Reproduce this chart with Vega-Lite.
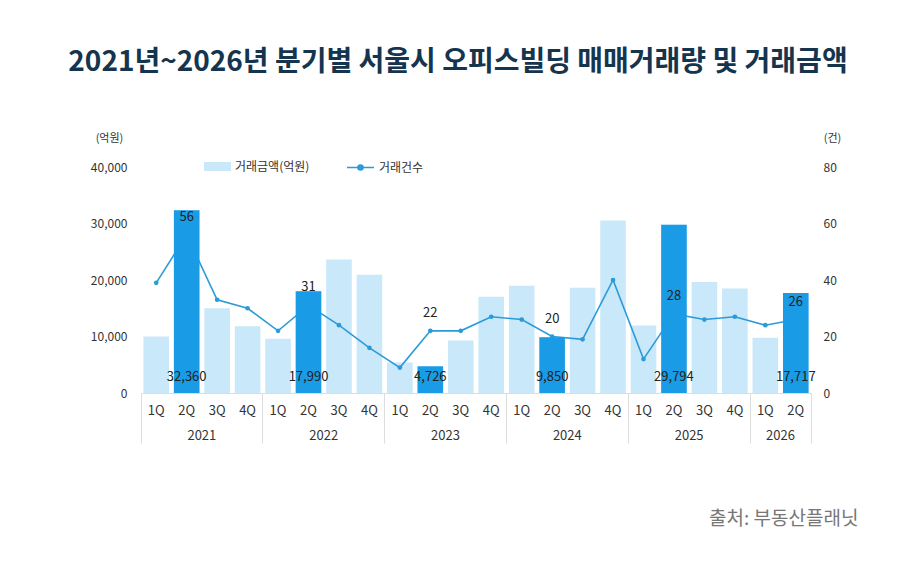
{
  "$schema": "https://vega.github.io/schema/vega-lite/v6.json",
  "width": 670,
  "height": 226,
  "autosize": "none",
  "padding": {"left": 141, "top": 167, "right": 106, "bottom": 179},
  "background": "white",
  "config": {
    "font": "Noto Sans CJK KR",
    "view": {"stroke": null},
    "axis": {"grid": false, "labelColor": "#333333", "titleColor": "#333333", "titleFontWeight": "normal"},
    "legend": {"labelColor": "#333333", "labelFontSize": 12, "padding": 0}
  },
  "title": {
    "text": "2021년~2026년 분기별 서울시 오피스빌딩 매매거래량 및 거래금액",
    "anchor": "middle",
    "frame": "group",
    "dx": -18,
    "offset": 55,
    "fontSize": 28,
    "fontWeight": "bold",
    "color": "#15354f"
  },
  "data": {
    "values": [
      {"key": "2021 1Q", "q": "1Q", "amount": 10000, "count": 39},
      {"key": "2021 2Q", "q": "2Q", "amount": 32360, "count": 56},
      {"key": "2021 3Q", "q": "3Q", "amount": 15000, "count": 33},
      {"key": "2021 4Q", "q": "4Q", "amount": 11800, "count": 30},
      {"key": "2022 1Q", "q": "1Q", "amount": 9600, "count": 22},
      {"key": "2022 2Q", "q": "2Q", "amount": 17990, "count": 31},
      {"key": "2022 3Q", "q": "3Q", "amount": 23650, "count": 24},
      {"key": "2022 4Q", "q": "4Q", "amount": 20950, "count": 16},
      {"key": "2023 1Q", "q": "1Q", "amount": 5400, "count": 9},
      {"key": "2023 2Q", "q": "2Q", "amount": 4726, "count": 22},
      {"key": "2023 3Q", "q": "3Q", "amount": 9300, "count": 22},
      {"key": "2023 4Q", "q": "4Q", "amount": 17050, "count": 27},
      {"key": "2024 1Q", "q": "1Q", "amount": 19000, "count": 26},
      {"key": "2024 2Q", "q": "2Q", "amount": 9850, "count": 20},
      {"key": "2024 3Q", "q": "3Q", "amount": 18650, "count": 19},
      {"key": "2024 4Q", "q": "4Q", "amount": 30550, "count": 40},
      {"key": "2025 1Q", "q": "1Q", "amount": 11950, "count": 12},
      {"key": "2025 2Q", "q": "2Q", "amount": 29794, "count": 28},
      {"key": "2025 3Q", "q": "3Q", "amount": 19650, "count": 26},
      {"key": "2025 4Q", "q": "4Q", "amount": 18480, "count": 27},
      {"key": "2026 1Q", "q": "1Q", "amount": 9770, "count": 24},
      {"key": "2026 2Q", "q": "2Q", "amount": 17717, "count": 26}
    ]
  },
  "encoding": {
    "x": {
      "field": "key",
      "type": "nominal",
      "sort": null,
      "scale": {
        "type": "band",
        "paddingInner": 0,
        "paddingOuter": 0,
        "domain": ["2021 1Q", "2021 2Q", "2021 3Q", "2021 4Q", "2022 1Q", "2022 2Q", "2022 3Q", "2022 4Q", "2023 1Q", "2023 2Q", "2023 3Q", "2023 4Q", "2024 1Q", "2024 2Q", "2024 3Q", "2024 4Q", "2025 1Q", "2025 2Q", "2025 3Q", "2025 4Q", "2026 1Q", "2026 2Q"]
      },
      "axis": null
    }
  },
  "layer": [
    {
      "mark": {"type": "bar", "width": {"band": 0.84}},
      "encoding": {
        "x": {
          "field": "key", "type": "nominal", "sort": null,
          "axis": {
            "orient": "bottom",
            "labelExpr": "slice(datum.value, 5)",
            "labelAngle": 0,
            "labelOverlap": false,
            "ticks": false,
            "domainColor": "#dddddd",
            "labelPadding": 11,
            "labelFontSize": 13,
            "title": "출처: 부동산플래닛",
            "titleX": 717,
            "titleY": 125,
            "titleAlign": "right",
            "titleBaseline": "middle",
            "titleFontSize": 19,
            "titleColor": "#777777"
          }
        },
        "y": {
          "field": "amount", "type": "quantitative",
          "scale": {"domain": [0, 40000], "nice": false},
          "axis": {
            "orient": "left",
            "values": [0, 10000, 20000, 30000, 40000],
            "labelExpr": "format(datum.value, ',')",
            "ticks": false,
            "domain": false,
            "labelPadding": 14,
            "labelFontSize": 12,
            "title": "(억원)",
            "titleAngle": 0,
            "titleX": -32,
            "titleY": -29,
            "titleAlign": "center",
            "titleBaseline": "middle",
            "titleFontSize": 11
          }
        },
        "fill": {
          "datum": "거래금액(억원)",
          "type": "nominal",
          "scale": {"range": ["#c9e8f9"]},
          "legend": {
            "orient": "none",
            "legendX": 63,
            "legendY": -14,
            "title": null,
            "symbolType": "M-1,-0.333H1V0.333H-1Z",
            "symbolSize": 729,
            "symbolStrokeWidth": 0,
            "labelOffset": 4
          }
        }
      }
    },
    {
      "mark": {"type": "line", "strokeWidth": 1.6},
      "encoding": {
        "y": {
          "field": "count", "type": "quantitative",
          "scale": {"domain": [0, 80], "nice": false},
          "axis": {
            "orient": "right",
            "values": [0, 20, 40, 60, 80],
            "ticks": false,
            "domain": false,
            "labelPadding": 12,
            "labelFontSize": 12,
            "title": "(건)",
            "titleAngle": 0,
            "titleX": 21,
            "titleY": -29,
            "titleAlign": "center",
            "titleBaseline": "middle",
            "titleFontSize": 11
          }
        },
        "stroke": {
          "datum": "거래건수",
          "type": "nominal",
          "scale": {"range": ["#2b9bd8"]},
          "legend": {
            "orient": "none",
            "legendX": 205,
            "legendY": -14,
            "title": null,
            "symbolType": "M-1,0H1M0.19,0A0.19,0.19,0,1,1,-0.19,0A0.19,0.19,0,1,1,0.19,0",
            "symbolSize": 729,
            "symbolStrokeWidth": 1.5,
            "symbolFillColor": "#2b9bd8",
            "labelOffset": 4
          }
        }
      }
    },
    {
      "mark": {"type": "point", "filled": true, "size": 22, "opacity": 1, "color": "#2b9bd8"},
      "encoding": {
        "y": {"field": "count", "type": "quantitative", "scale": {"domain": [0, 80], "nice": false}, "axis": null}
      }
    },
    {
      "transform": [{"filter": "datum.q == '2Q'"}],
      "mark": {"type": "bar", "width": {"band": 0.84}, "color": "#1a9be6"},
      "encoding": {
        "x": {
          "field": "key", "type": "nominal", "sort": null,
          "axis": {
            "orient": "bottom",
            "values": ["2021 2Q", "2022 2Q", "2023 2Q", "2024 2Q", "2025 2Q", "2026 1Q"],
            "labelExpr": "slice(datum.value, 0, 4)",
            "labelOffset": 15.2,
            "labelAngle": 0,
            "labelOverlap": false,
            "ticks": false,
            "domain": false,
            "labelPadding": 36,
            "labelFontSize": 13,
            "title": null
          }
        },
        "y": {"field": "amount", "type": "quantitative", "scale": {"domain": [0, 40000], "nice": false}, "axis": null}
      }
    },
    {
      "transform": [{"filter": "datum.q == '2Q'"}],
      "mark": {"type": "text", "dy": -18, "fontSize": 13, "color": "#222222", "baseline": "middle"},
      "encoding": {
        "x": {
          "field": "key", "type": "nominal", "sort": null,
          "axis": {
            "orient": "bottom",
            "values": ["2021 1Q", "2022 1Q", "2023 1Q", "2024 1Q", "2025 1Q", "2026 1Q"],
            "bandPosition": 0,
            "labels": false,
            "domain": false,
            "ticks": true,
            "tickSize": 50,
            "tickColor": "#dddddd",
            "title": null
          }
        },
        "y": {"field": "count", "type": "quantitative", "scale": {"domain": [0, 80], "nice": false}, "axis": null},
        "text": {"field": "count", "type": "quantitative"}
      }
    },
    {
      "transform": [{"filter": "datum.q == '2Q'"}],
      "mark": {"type": "text", "dy": -16, "fontSize": 13, "color": "#222222", "baseline": "middle"},
      "encoding": {
        "x": {
          "field": "key", "type": "nominal", "sort": null,
          "axis": {
            "orient": "bottom",
            "values": ["2026 2Q"],
            "bandPosition": 1,
            "labels": false,
            "domain": false,
            "ticks": true,
            "tickSize": 50,
            "tickColor": "#dddddd",
            "title": null
          }
        },
        "y": {"datum": 0, "type": "quantitative", "scale": {"domain": [0, 40000], "nice": false}, "axis": null},
        "text": {"field": "amount", "type": "quantitative", "format": ","}
      }
    }
  ],
  "resolve": {
    "scale": {"y": "independent"},
    "axis": {"x": "independent", "y": "independent"}
  }
}
